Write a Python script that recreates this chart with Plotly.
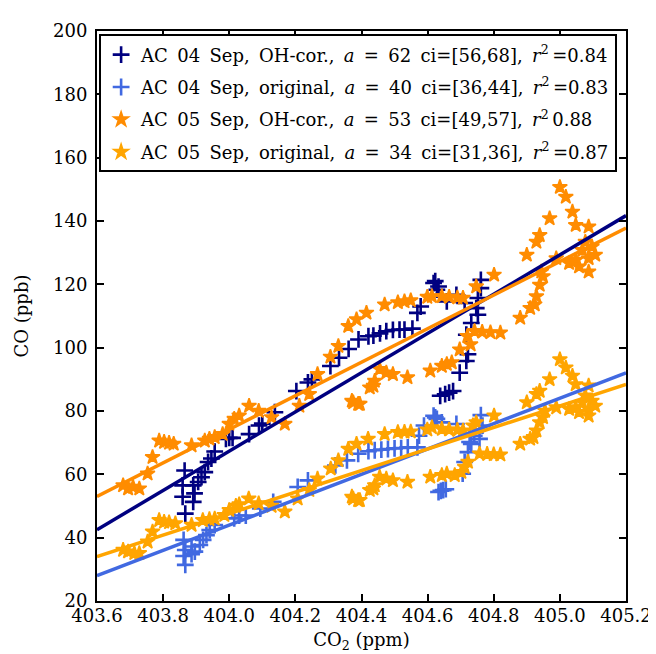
import plotly.graph_objects as go

# ---------------- data ----------------
x_04_oh = [403.865, 403.859, 403.859, 403.867, 403.891, 403.891, 403.895, 403.906, 403.916, 403.926,
           403.936, 403.946, 403.956, 403.990, 404.000, 404.010, 404.060, 404.090, 404.100, 404.138,
           404.203, 404.238, 404.250, 404.306, 404.332, 404.361, 404.391, 404.421, 404.436, 404.456,
           404.475, 404.495, 404.515, 404.530, 404.554, 404.569, 404.579, 404.618, 404.628, 404.623,
           404.633, 404.658, 404.687, 404.712, 404.761, 404.761, 404.752, 404.747, 404.752, 404.732,
           404.717, 404.722, 404.717, 404.697, 404.638, 404.653, 404.665, 404.677]
y_04_oh = [61.2, 56.5, 52.9, 47.6, 56.5, 51.3, 54.0, 57.6, 59.1, 60.7,
           63.9, 65.0, 67.2, 71.2, 71.5, 71.5, 72.7, 75.4, 76.0, 79.6,
           86.3, 89.0, 90.0, 94.2, 96.8, 99.6, 102.6, 103.6, 103.8, 104.5,
           105.2, 105.6, 105.7, 105.7, 106.0, 111.0, 113.0, 120.4, 118.3, 121.0,
           119.3, 114.6, 116.7, 114.1, 121.4, 118.8, 115.7, 112.5, 110.4, 107.8,
           104.1, 97.9, 95.8, 92.1, 84.8, 85.3, 85.8, 86.3]

x_04_orig = [403.862, 403.867, 403.862, 403.867, 403.886, 403.886, 403.896, 403.911, 403.921, 403.931,
             403.941, 403.956, 404.015, 404.030, 404.050, 404.094, 404.133, 404.207, 404.238, 404.321,
             404.356, 404.390, 404.421, 404.440, 404.460, 404.480, 404.500, 404.520, 404.540, 404.569,
             404.574, 404.589, 404.618, 404.628, 404.623, 404.643, 404.687, 404.761, 404.766, 404.741,
             404.732, 404.722, 404.712, 404.706, 404.727, 404.757, 404.633, 404.640, 404.647, 404.655]
y_04_orig = [39.3, 36.1, 34.2, 31.4, 37.2, 34.8, 35.6, 37.7, 39.3, 40.8,
             42.4, 44.0, 46.1, 47.0, 47.0, 49.2, 51.3, 56.0, 58.1, 62.8,
             64.4, 66.5, 67.3, 67.6, 67.8, 68.0, 68.2, 68.3, 68.5, 68.5,
             72.2, 75.4, 78.5, 77.5, 78.0, 76.4, 75.9, 78.7, 75.4, 72.2,
             69.6, 67.0, 63.9, 60.2, 70.2, 71.2, 54.4, 54.8, 55.0, 55.3]

x_05_oh = [403.679, 403.694, 403.709, 403.728, 403.753, 403.768, 403.788, 403.803, 403.818, 403.832,
           403.886, 403.926, 403.940, 403.956, 403.980, 404.000, 404.015, 404.030, 404.060, 404.089,
           404.128, 404.168, 404.212, 404.242, 404.267, 404.306, 404.330, 404.360, 404.385, 404.415,
           404.470, 404.510, 404.530, 404.549, 404.599, 404.375, 404.390, 404.425, 404.455, 404.475,
           404.495, 404.539, 404.608, 404.440, 404.436, 404.371, 404.395, 404.613, 404.643, 404.665,
           404.690, 404.707, 404.747, 404.742, 404.765, 404.790, 404.820, 404.720, 404.730, 404.697,
           404.673, 404.658, 404.643, 404.801, 404.880, 404.910, 404.924, 404.929, 404.939, 404.944,
           404.949, 404.969, 404.989, 404.900, 404.929, 404.939, 405.000, 405.018, 405.038, 405.048,
           405.087, 405.077, 405.097, 405.068, 405.107, 405.087, 405.048, 405.028, 405.058, 405.087]
y_05_oh = [56.5, 55.5, 56.0, 55.5, 60.2, 65.4, 70.6, 70.2, 69.9, 69.6,
           69.1, 70.6, 71.2, 71.7, 72.7, 75.9, 77.5, 78.5, 81.6, 80.0,
           78.0, 75.9, 81.6, 85.3, 91.6, 97.1, 100.5, 106.8, 108.9, 111.0,
           113.6, 114.3, 114.6, 114.9, 116.0, 82.7, 82.2, 87.4, 93.2, 92.1,
           91.6, 90.6, 92.7, 89.5, 87.9, 83.2, 82.2, 116.2, 116.2, 116.0,
           115.8, 115.7, 119.3, 105.2, 105.0, 104.8, 104.7, 103.6, 101.0, 99.4,
           95.3, 94.8, 94.2, 123.0, 109.4, 112.5, 113.6, 116.2, 119.8, 124.0,
           122.5, 140.8, 128.2, 129.3, 133.4, 135.5, 150.7, 147.6, 142.9, 138.7,
           138.2, 133.4, 131.9, 130.8, 129.3, 128.2, 127.7, 126.7, 125.6, 124.0]

x_05_orig = [403.679, 403.694, 403.713, 403.728, 403.753, 403.768, 403.788, 403.803, 403.818, 403.837,
             403.886, 403.920, 403.940, 403.956, 403.985, 404.000, 404.020, 404.030, 404.059, 404.089,
             404.128, 404.168, 404.207, 404.242, 404.267, 404.307, 404.330, 404.360, 404.385, 404.420,
             404.470, 404.510, 404.530, 404.549, 404.599, 404.375, 404.390, 404.425, 404.455, 404.475,
             404.495, 404.539, 404.608, 404.440, 404.436, 404.371, 404.395, 404.613, 404.643, 404.665,
             404.690, 404.707, 404.747, 404.737, 404.757, 404.780, 404.800, 404.820, 404.722, 404.712,
             404.702, 404.682, 404.658, 404.643, 404.801, 404.880, 404.910, 404.920, 404.929, 404.939,
             404.949, 404.955, 404.969, 404.989, 404.900, 404.929, 404.939, 405.000, 405.018, 405.038,
             405.048, 405.087, 405.077, 405.097, 405.068, 405.107, 405.087, 405.048, 405.028, 405.058,
             405.087]
y_05_orig = [36.1, 35.6, 35.1, 35.1, 38.7, 41.9, 45.5, 45.0, 44.8, 44.5,
             44.0, 45.5, 45.8, 46.0, 47.1, 48.7, 50.0, 50.5, 52.3, 50.8,
             50.0, 48.2, 52.3, 55.0, 58.6, 61.8, 64.4, 68.0, 69.6, 71.2,
             72.7, 73.3, 73.4, 73.5, 74.1, 52.3, 51.8, 55.0, 59.2, 58.6,
             58.1, 57.6, 59.2, 56.5, 55.5, 52.9, 51.8, 74.8, 74.3, 74.1,
             74.0, 73.8, 76.4, 75.4, 66.5, 66.4, 66.3, 66.2, 63.9, 62.3,
             60.7, 59.7, 60.2, 59.7, 78.5, 69.6, 71.2, 71.7, 73.8, 76.4,
             78.0, 80.0, 90.0, 81.1, 82.7, 85.3, 86.3, 96.3, 93.7, 91.1,
             88.4, 88.0, 84.8, 83.2, 82.7, 81.6, 80.6, 81.1, 80.6, 79.6,
             78.5]

# regression fits: slope a (ppb/ppm) and fitted value at the left edge of the axis
fit_slopes = [62, 40, 53, 34]
fit_at_x0 = [42.5, 28.0, 53.0, 34.0]

S = " \u2009"  # slightly wide word gap, like the mathtext label spacing
labels = [
    f"AC{S}04{S}Sep,{S}OH-cor.,{S}<i>a</i>{S}={S}62{S}ci=[56,68],{S}<i>r</i><sup>2</sup>\u2009=0.84",
    f"AC{S}04{S}Sep,{S}original,{S}<i>a</i>{S}={S}40{S}ci=[36,44],{S}<i>r</i><sup>2</sup>\u2009=0.83",
    f"AC{S}05{S}Sep,{S}OH-cor.,{S}<i>a</i>{S}={S}53{S}ci=[49,57],{S}<i>r</i><sup>2</sup>\u20090.88",
    f"AC{S}05{S}Sep,{S}original,{S}<i>a</i>{S}={S}34{S}ci=[31,36],{S}<i>r</i><sup>2</sup>\u2009=0.87",
]

x_ticks = [403.6, 403.8, 404.0, 404.2, 404.4, 404.6, 404.8, 405.0, 405.2]
y_ticks = [20, 40, 60, 80, 100, 120, 140, 160, 180, 200]

# ---------------- figure ----------------
xs = [x_04_oh, x_04_orig, x_05_oh, x_05_orig]
ys = [y_04_oh, y_04_orig, y_05_oh, y_05_orig]
colors = ["#000080", "#4169E1", "#FF8C00", "#FFA500"]
symbols = ["cross-thin", "cross-thin", "star", "star"]

x0, x1 = x_ticks[0], x_ticks[-1]
fig = go.Figure()
for i in range(4):
    if symbols[i] == "cross-thin":
        marker = dict(symbol="cross-thin", size=12, color=colors[i],
                      line=dict(width=2.6, color=colors[i]))
    else:
        marker = dict(symbol="star", size=11, color=colors[i],
                      line=dict(width=1.6, color=colors[i]))
    fig.add_trace(go.Scatter(x=xs[i], y=ys[i], mode="markers", marker=marker,
                             name=labels[i], legendgroup=str(i)))
for i in range(4):
    xl = [x0, x1]
    yl = [fit_at_x0[i] + fit_slopes[i] * (xv - x0) for xv in xl]
    fig.add_trace(go.Scatter(x=xl, y=yl, mode="lines", showlegend=False,
                             line=dict(color=colors[i], width=3.5)))

font = dict(family="DejaVu Serif", size=18, color="black")
axis_common = dict(showline=True, linewidth=2, linecolor="black", mirror="ticks",
                   ticks="inside", ticklen=7, tickwidth=1.5, tickcolor="black",
                   showgrid=False, zeroline=False, tickfont=font)
fig.update_xaxes(range=[x0, x1], tickvals=x_ticks, ticktext=[f"{v:.1f}" for v in x_ticks],
                 ticklabelstandoff=-3,
                 title=dict(text="CO<sub>2</sub> (ppm)", font=font, standoff=9), **axis_common)
fig.update_yaxes(range=[y_ticks[0], y_ticks[-1]], tickvals=y_ticks, ticklabelstandoff=4,
                 title=dict(text="CO (ppb)", font=font, standoff=20), **axis_common)

fig.update_layout(
    width=656, height=654,
    margin=dict(l=88, r=28, t=20, b=61),
    paper_bgcolor="white", plot_bgcolor="white",
    font=font,
    showlegend=True,
    legend=dict(x=0.004, y=0.994, xanchor="left", yanchor="top",
                bgcolor="white", bordercolor="black", borderwidth=2,
                font=dict(family="DejaVu Serif", size=18, color="black"),
                tracegroupgap=6),
)

fig.write_html("out.html")
